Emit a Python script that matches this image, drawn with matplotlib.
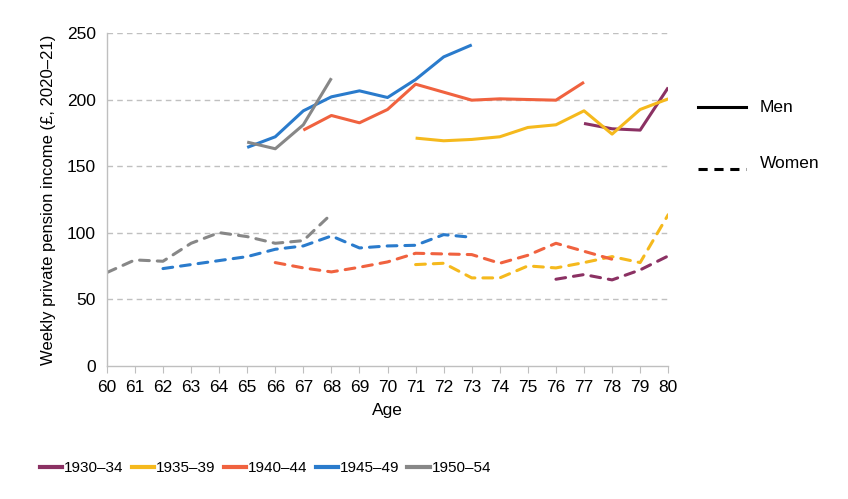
import numpy as np
import matplotlib
matplotlib.use("Agg")
import matplotlib.pyplot as plt
from matplotlib.lines import Line2D

plt.rcParams["font.family"] = ["Liberation Sans", "DejaVu Sans"]

# ─── Data ─────────────────────────────────────────────────────────────────────

COHORTS = ["1930–34", "1935–39", "1940–44", "1945–49", "1950–54"]
COLORS = ["#8b3163", "#f5b91d", "#f0623f", "#2a7bcc", "#878787"]

# Men (solid)
men_ages = [
    [77, 78, 79, 80],
    [71, 72, 73, 74, 75, 76, 77, 78, 79, 80],
    [67, 68, 69, 70, 71, 72, 73, 74, 75, 76, 77],
    [65, 66, 67, 68, 69, 70, 71, 72, 73],
    [65, 66, 67, 68],
]
men_vals = [
    [182, 178, 177, 209],
    [171, 169, 170, 172, 179, 181, 191.5, 174, 192.5, 200.5],
    [177, 188, 182.5, 192.5, 211.5, 205.5, 199.5, 200.5, 200, 199.5, 213],
    [164, 172, 191.5, 202, 206.5, 201.5, 215, 232, 241],
    [168, 163, 181, 216],
]

# Women (dashed)
women_ages = [
    [76, 77, 78, 79, 80],
    [71, 72, 73, 74, 75, 76, 77, 78, 79, 80],
    [66, 67, 68, 69, 70, 71, 72, 73, 74, 75, 76, 77, 78],
    [62, 63, 64, 65, 66, 67, 68, 69, 70, 71, 72, 73],
    [60, 61, 62, 63, 64, 65, 66, 67, 68],
]
women_vals = [
    [65, 68.5, 64.5, 72, 82.5],
    [76, 77, 66, 66, 75, 73.5, 77.5, 82, 77.5, 113.5],
    [77.5, 73.5, 70.5, 74, 78, 84.5, 84, 83.5, 77, 83, 92, 86, 80],
    [73, 76, 79, 82, 87.5, 90, 97.5, 88.5, 90, 90.5, 98.5, 96.5],
    [70, 79.5, 78.5, 92, 100, 97, 92, 94, 114],
]

Y_TICKS = [0, 50, 100, 150, 200, 250]
X_TICKS = list(range(60, 81))

# ─── Plot ─────────────────────────────────────────────────────────────────────

fig = plt.figure(figsize=(8.48, 4.99), dpi=100)
ax = fig.add_axes([0.126, 0.267, 0.662, 0.667])

for i in range(len(COHORTS)):
    ax.plot(men_ages[i], men_vals[i], color=COLORS[i], lw=2.2,
            solid_capstyle="butt")
    ax.plot(women_ages[i], women_vals[i], color=COLORS[i], lw=2.2,
            dashes=(3.2, 2.6), dash_capstyle="round")

ax.set_xlim(60, 80)
ax.set_ylim(0, 250)
ax.set_xticks(X_TICKS)
ax.set_yticks(Y_TICKS)
ax.tick_params(axis="x", labelsize=12.5, length=5, color="#bfbfbf", pad=5)
ax.tick_params(axis="y", labelsize=12.5, length=0, pad=8)
for t in Y_TICKS[1:]:
    ax.axhline(t, color="#c0c0c0", lw=1, dashes=(4, 3), zorder=0)

for s in ["top", "right"]:
    ax.spines[s].set_visible(False)
for s in ["left", "bottom"]:
    ax.spines[s].set_color("#bfbfbf")
    ax.spines[s].set_linewidth(1)

ax.set_xlabel("Age", fontsize=12.5, labelpad=6)
ax.set_ylabel("Weekly private pension income (£, 2020–21)", fontsize=12, labelpad=8)

# Men / Women key on the right
fig.add_artist(Line2D([698 / 848, 746 / 848], [1 - 107 / 499] * 2,
                      color="black", lw=2.2, transform=fig.transFigure))
fig.add_artist(Line2D([698 / 848, 746 / 848], [1 - 169 / 499] * 2,
                      color="black", lw=2.2, dashes=(3, 2.2),
                      transform=fig.transFigure))
fig.text(760 / 848, 1 - 107 / 499, "Men", fontsize=12.5, va="center")
fig.text(760 / 848, 1 - 164 / 499, "Women", fontsize=12.5, va="center")

# Cohort legend at bottom
handles = [Line2D([], [], color=c, lw=3) for c in COLORS]
fig.legend(handles, COHORTS, loc="center left", bbox_to_anchor=(0.047, 0.062),
           ncol=5, frameon=False, handlelength=1.45, handletextpad=0.12,
           columnspacing=0.55, prop={"size": 11},
           borderaxespad=0, borderpad=0)

fig.savefig("out.png", dpi=100, facecolor="white")
